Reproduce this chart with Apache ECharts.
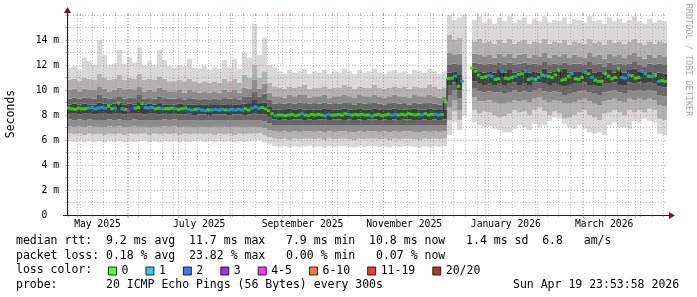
<!DOCTYPE html>
<html><head><meta charset="utf-8">
<script src="https://cdn.jsdelivr.net/npm/echarts@6/dist/echarts.min.js"></script>
<style>html,body{margin:0;padding:0;background:#fff}#c{width:697px;height:297px}</style>
</head><body><div id="c"></div>
<script>
// ===== DATA (x in days since 2025-04-25 00:00, 360 days shown; y in ms) =====
const spanDays = 360;
const columnDays = 3;            // smoke column width (days)
const monthStartDays = [6,37,67,98,129,159,190,220,251,282,310,341];
const xLabelTexts = ['May 2025','July 2025','September 2025','November 2025','January 2026','March 2026'];
const xLabelDays = [18.3,79.3,141.3,202.3,263.3,322.3];
const firstWeekDay = 1;

// smoke envelope edges per 3-day column (120 columns), outer -> inner
const smokeHi0 = [
 11.8,11.9,11.6,12.6,12.3,12.0,14.0,12.8,12.0,12.1, 13.2,12.1,12.6,12.2,13.4,12.0,12.3,12.0,13.2,12.4,
 11.9,11.8,12.0,11.9,12.5,11.8,11.7,11.9,11.6,11.8, 11.7,12.4,11.8,12.5,11.7,13.0,12.6,15.3,12.8,14.2,
 12.0,
 11.8,11.5,11.3,11.6,11.4,11.5,11.7,11.3,11.5,11.4, 11.6,11.3,11.5,11.4,11.7,11.5,11.3,11.6,11.4,11.5,
 11.7,11.4,11.3,11.5,11.6,11.4,11.5,11.3,11.6,11.5, 11.4,11.7,11.5,11.3,11.5,
 16.0,15.6,15.8,16.0,null,
 15.6,15.9,15.4,15.7,15.3,15.8,15.5,15.9,15.4,15.6, 15.8,15.3,15.7,15.5,15.9,15.4,15.6,15.5,15.8,15.3,
 15.7,15.6,15.4,15.9,15.5,15.6,15.3,15.8,15.5,15.7, 15.4,15.6,15.9,15.5,15.3,15.7,15.4,15.6,15.5];
const smokeHi1 = [
 10.8,10.9,10.7,11.0,10.9,10.8,11.3,11.0,10.8,10.9, 11.2,10.8,11.0,10.9,11.3,10.8,10.9,10.8,11.1,10.9,
 10.7,10.7,10.8,10.7,10.9,10.7,10.6,10.7,10.6,10.7, 10.6,10.9,10.7,10.9,10.6,11.2,11.0,12.0,11.0,11.5,
 10.6,
 10.3,10.2,10.1,10.3,10.2,10.3,10.4,10.1,10.2,10.2, 10.3,10.1,10.2,10.2,10.4,10.3,10.1,10.3,10.2,10.2,
 10.4,10.2,10.1,10.2,10.3,10.2,10.3,10.1,10.3,10.2, 10.2,10.4,10.3,10.1,10.2,
 14.4,14.0,14.2,12.0,null,
 13.9,14.1,13.8,13.9,13.7,14.0,13.8,14.1,13.7,13.9, 14.0,13.7,13.9,13.8,14.1,13.7,13.9,13.8,14.0,13.6,
 13.9,13.8,13.7,14.1,13.8,13.9,13.6,14.0,13.8,13.9, 13.7,13.9,14.1,13.8,13.6,13.9,13.7,13.9,13.8];
const smokeHi2 = [
 10.0,10.1,9.9,10.1,10.0,10.0,10.3,10.1,9.9,10.0, 10.2,10.0,10.1,10.0,10.3,9.9,10.0,9.9,10.2,10.0,
 9.9,9.9,10.0,9.8,10.0,9.9,9.8,9.9,9.8,9.9, 9.8,10.0,9.9,10.0,9.8,10.2,10.1,10.8,10.1,10.5,
 9.8,
 9.5,9.5,9.4,9.6,9.5,9.6,9.6,9.4,9.5,9.5, 9.6,9.4,9.5,9.5,9.6,9.5,9.4,9.6,9.5,9.5,
 9.6,9.5,9.4,9.5,9.6,9.5,9.5,9.4,9.6,9.5, 9.5,9.6,9.5,9.4,9.5,
 13.0,12.8,12.9,12.0,null,
 12.9,12.8,12.7,12.8,12.6,12.9,12.7,12.9,12.6,12.8, 12.9,12.6,12.8,12.7,13.0,12.6,12.8,12.7,12.9,12.6,
 12.8,12.7,12.6,13.0,12.7,12.8,12.5,12.9,12.7,12.8, 12.6,12.8,13.0,12.7,12.5,12.8,12.6,12.8,12.7];
const smokeHi3 = [
 9.3,9.4,9.3,9.4,9.35,9.3,9.6,9.4,9.3,9.35, 9.5,9.3,9.4,9.35,9.6,9.3,9.35,9.3,9.5,9.35,
 9.3,9.3,9.35,9.25,9.35,9.3,9.2,9.3,9.2,9.3, 9.2,9.35,9.3,9.35,9.25,9.5,9.45,9.9,9.45,9.7,
 9.2,
 8.9,8.95,8.9,9.0,8.9,9.0,8.95,8.9,8.95,8.9, 9.0,8.9,8.95,8.9,9.0,8.95,8.85,9.0,8.9,8.95,
 9.0,8.9,8.85,8.95,9.0,8.9,8.95,8.85,9.0,8.9, 8.95,9.0,8.9,8.85,8.95,
 12.0,12.1,12.0,12.0,null,
 12.2,12.1,12.0,12.1,12.0,12.2,12.0,12.2,12.0,12.1, 12.2,12.0,12.1,12.0,12.3,12.0,12.1,12.0,12.2,12.0,
 12.1,12.1,12.0,12.3,12.0,12.1,11.9,12.2,12.0,12.1, 12.0,12.1,12.3,12.0,11.9,12.1,12.0,12.1,12.0];
const smokeHi4 = [
 8.85,8.9,8.85,8.9,8.85,8.85,9.0,8.9,8.85,8.9, 9.0,8.85,8.9,8.85,9.1,8.85,8.9,8.85,8.95,8.85,
 8.85,8.85,8.9,8.8,8.85,8.85,8.8,8.85,8.8,8.8, 8.8,8.85,8.8,8.85,8.8,8.9,8.95,9.2,8.95,9.0,
 8.7,
 8.45,8.45,8.4,8.5,8.45,8.5,8.45,8.4,8.45,8.45, 8.5,8.4,8.45,8.45,8.5,8.45,8.4,8.5,8.45,8.45,
 8.5,8.45,8.4,8.45,8.5,8.4,8.45,8.4,8.5,8.45, 8.45,8.5,8.45,8.4,8.45,
 11.4,11.5,11.2,12.0,null,
 11.7,11.5,11.4,11.5,11.4,11.6,11.4,11.6,11.4,11.5, 11.6,11.4,11.5,11.4,11.7,11.4,11.5,11.5,11.7,11.4,
 11.5,11.5,11.4,11.7,11.4,11.5,11.3,11.6,11.4,11.5, 11.4,11.6,11.7,11.5,11.4,11.5,11.3,11.4,11.3];
const smokeLo4 = [
 8.1,8.1,8.05,8.1,8.1,8.05,8.1,8.1,8.05,8.1, 8.1,8.05,8.1,8.1,8.1,8.05,8.1,8.1,8.05,8.1,
 8.05,8.1,8.05,8.05,8.1,8.0,8.05,8.05,8.0,8.05, 8.05,8.05,8.0,8.05,8.05,8.0,8.05,8.1,8.05,8.05,
 7.85,
 7.65,7.6,7.65,7.6,7.65,7.65,7.6,7.65,7.6,7.65, 7.65,7.6,7.65,7.65,7.6,7.65,7.6,7.65,7.6,7.65,
 7.65,7.6,7.65,7.6,7.65,7.6,7.65,7.65,7.6,7.6, 7.65,7.6,7.65,7.6,7.65,
 10.4,10.6,10.0,12.0,null,
 10.7,10.5,10.4,10.5,10.4,10.5,10.4,10.5,10.6,10.4, 10.5,10.4,10.6,10.6,10.5,10.4,10.5,10.4,10.3,10.4,
 10.5,10.5,10.6,10.4,10.4,10.3,10.5,10.5,10.6,10.4, 10.4,10.6,10.5,10.6,10.5,10.6,10.5,10.3,10.2];
const smokeLo3 = [
 7.65,7.6,7.65,7.6,7.65,7.6,7.6,7.6,7.65,7.6, 7.65,7.6,7.6,7.65,7.6,7.6,7.55,7.6,7.6,7.65,
 7.6,7.65,7.6,7.6,7.6,7.55,7.6,7.6,7.55,7.6, 7.6,7.6,7.55,7.6,7.6,7.55,7.6,7.6,7.55,7.5,
 7.35,
 7.2,7.15,7.2,7.15,7.2,7.2,7.15,7.2,7.15,7.2, 7.15,7.2,7.2,7.15,7.2,7.2,7.15,7.2,7.15,7.2,
 7.2,7.15,7.2,7.15,7.2,7.15,7.2,7.2,7.15,7.15, 7.2,7.15,7.2,7.15,7.2,
 9.6,10.0,9.3,12.0,null,
 10.1,9.9,9.8,9.9,9.8,9.8,9.7,9.8,10.0,9.8, 9.9,9.8,10.0,10.1,9.9,9.8,9.9,9.8,9.6,9.7,
 9.8,9.9,10.0,9.8,9.7,9.6,9.8,9.9,10.0,9.8, 9.7,10.0,9.9,10.0,9.9,10.0,9.9,9.6,9.5];
const smokeLo2 = [
 7.1,7.05,7.1,7.0,7.1,7.05,7.05,7.0,7.1,7.05, 7.1,7.0,7.05,7.1,7.05,7.05,7.0,7.05,7.05,7.1,
 7.05,7.1,7.0,7.05,7.05,7.0,7.05,7.05,7.0,7.05, 7.05,7.05,7.0,7.05,7.05,7.0,7.05,7.05,7.0,6.95,
 6.8,
 6.7,6.65,6.7,6.6,6.7,6.65,6.7,6.7,6.65,6.7, 6.6,6.7,6.65,6.7,6.7,6.65,6.6,6.7,6.65,6.7,
 6.7,6.65,6.7,6.6,6.7,6.65,6.7,6.7,6.65,6.6, 6.7,6.65,6.7,6.65,6.7,
 8.6,9.2,8.4,12.0,null,
 9.4,9.1,9.1,9.2,9.0,8.9,8.9,9.0,9.2,9.1, 9.2,9.0,9.3,9.4,9.2,9.0,9.2,9.1,8.9,8.9,
 9.0,9.2,9.3,9.1,8.9,8.8,9.1,9.2,9.3,9.1, 9.0,9.3,9.2,9.3,9.2,9.3,9.2,8.8,8.7];
const smokeLo1 = [
 6.5,6.45,6.5,6.4,6.5,6.45,6.5,6.4,6.5,6.45, 6.5,6.4,6.5,6.45,6.5,6.5,6.4,6.5,6.45,6.5,
 6.45,6.5,6.4,6.5,6.45,6.5,6.5,6.45,6.5,6.4, 6.5,6.45,6.5,6.4,6.5,6.45,6.5,6.5,6.55,6.35,
 6.2,
 6.1,6.05,6.1,6.0,6.1,6.05,6.1,6.1,6.05,6.1, 6.0,6.1,6.05,6.1,6.1,6.05,6.0,6.1,6.05,6.1,
 6.1,6.05,6.1,6.0,6.1,6.05,6.1,6.1,6.05,6.0, 6.1,6.05,6.1,6.05,6.1,
 7.6,8.3,7.6,12.0,null,
 8.4,8.1,8.3,8.2,8.0,7.8,7.9,8.1,8.4,8.2, 8.3,8.0,8.4,8.6,8.3,8.0,8.3,8.1,7.7,7.8,
 8.0,8.2,8.4,8.0,7.8,7.6,8.1,8.2,8.4,8.2, 8.0,8.4,8.2,8.4,8.2,8.5,8.4,7.7,7.6];
const smokeLo0 = [
 5.9,5.85,5.95,5.8,5.9,5.85,5.9,5.8,5.95,5.85, 5.9,5.8,5.9,5.85,5.9,5.95,5.8,5.9,5.85,5.9,
 5.85,5.9,5.8,5.9,5.85,5.9,5.95,5.85,5.9,5.8, 5.9,5.85,5.9,5.8,5.9,5.85,5.9,5.95,6.0,5.8,
 5.7,
 5.5,5.45,5.5,5.4,5.5,5.45,5.5,5.55,5.45,5.5, 5.4,5.5,5.45,5.5,5.5,5.45,5.4,5.5,5.45,5.5,
 5.5,5.45,5.5,5.4,5.5,5.45,5.5,5.5,5.45,5.4, 5.5,5.45,5.5,5.45,5.5,
 6.4,7.4,6.8,8.0,null,
 7.4,7.2,7.0,7.1,6.9,6.8,6.6,6.6,6.9,7.2, 7.0,6.8,7.3,7.0,7.2,7.5,7.8,7.7,7.3,7.0,
 6.9,7.2,6.9,6.6,6.5,6.6,6.4,7.2,7.4,7.0, 7.0,6.9,7.5,7.4,7.7,7.5,7.4,6.5,6.4];

// median rtt per 2-day step (180 values) and lost pings (of 20)
const medianStepDays = 2;
const medianRtt = [
 8.55,8.5,8.45,8.55,8.5,8.5,8.55,8.6,8.5,8.55,
 8.6,8.55,8.7,8.5,8.55,8.95,8.5,8.45,8.4,8.5,
 8.55,8.6,8.9,8.6,8.55,8.6,8.5,8.55,8.5,8.5,
 8.5,8.55,8.5,8.45,8.5,8.55,8.45,8.4,8.45,8.5,
 8.4,8.35,8.4,8.4,8.45,8.4,8.45,8.4,8.4,8.45,
 8.4,8.45,8.4,8.5,8.4,8.55,8.65,8.55,8.6,8.5,
 8.35,8.1,7.95,8.0,8.0,7.95,8.0,8.05,7.95,8.0,
 8.1,8.0,7.95,8.05,8.0,8.05,8.0,7.95,8.05,8.0,
 8.0,8.05,8.0,8.1,8.05,8.0,8.05,8.0,8.05,8.0,
 8.0,7.9,8.0,8.05,7.95,8.0,8.05,8.0,8.05,8.0,
 8.05,8.0,8.1,8.05,8.0,8.05,8.0,8.1,8.0,8.05,
 8.05,8.0,8.05,9.1,10.9,10.95,11.1,10.3,10.7,null,
 null,11.75,11.5,11.2,11.0,11.05,11.15,11.1,10.85,10.9,
 11.5,10.95,10.9,11.0,11.1,11.25,11.3,11.5,10.85,10.9,
 10.85,11.0,11.2,11.15,11.1,11.0,11.2,11.6,10.8,10.85,
 11.1,11.3,10.9,10.85,11.0,11.4,11.3,11.0,10.8,10.7,
 10.7,11.3,11.1,10.9,11.0,11.7,11.0,10.95,11.2,11.15,
 10.95,11.0,11.5,11.3,11.1,11.1,11.15,10.7,10.75,10.7];
const lostPings = [
 0,0,0,0,0,0,1,1,1,1, 1,1,0,0,1,0,1,0,4,2, 0,0,0,1,1,1,0,0,1,0, 0,0,1,0,0,0,1,1,0,1,
 1,1,0,1,1,1,1,0,1,1, 1,1,1,0,0,1,1,1,0,0, 0,0,1,0,0,0,0,0,0,0, 1,0,0,0,0,0,0,1,1,0,
 0,0,0,0,1,0,0,0,0,0, 0,1,0,0,0,0,0,1,1,0, 0,0,0,0,0,0,1,0,0,0, 1,1,0,0,0,0,1,0,1,0,
 0,0,0,0,0,0,1,1,0,0, 1,0,0,0,1,0,0,1,0,1, 0,1,0,1,0,0,0,0,0,0, 0,1,0,0,0,1,0,1,0,0,
 0,0,0,0,0,0,1,1,1,0, 0,0,1,1,0,1,0,1,0,0];

const lossLabels = ['0','1','2','3','4-5','6-10','11-19','20/20'];
const lossColors = ['#26ff00','#00b8ff','#0059ff','#7e00ff','#ff00ff','#ff5500','#ff0000','#a10000'];
const yTickStep = 2;

const statsLine1 = 'median rtt:  9.2 ms avg  11.7 ms max   7.9 ms min  10.8 ms now   1.4 ms sd  6.8   am/s';
const statsLine2 = 'packet loss: 0.18 % avg  23.82 % max   0.00 % min   0.07 % now';
const lossTitle  = 'loss color:';
const probeLine  = 'probe:       20 ICMP Echo Pings (56 Bytes) every 300s';
const dateLine   = 'Sun Apr 19 23:53:58 2026';

// ===== CHART =====
const MONO = '"DejaVu Sans Mono", monospace';
const GRID = 'rgba(140,140,140,0.55)';
const MGRID = 'rgba(224,80,80,0.5)';
const AXIS = '#202020';
const weekDays = [];
for (let d = firstWeekDay; d < spanDays; d += 7) weekDays.push(d);
const colCats = smokeLo0.map((_, i) => String(i * columnDays));

function lossClass(n) {
  if (n <= 3) return n;
  if (n <= 5) return 4;
  if (n <= 10) return 5;
  if (n <= 19) return 6;
  return 7;
}

const levels = [smokeLo0, smokeLo1, smokeLo2, smokeLo3, smokeLo4, smokeHi4, smokeHi3, smokeHi2, smokeHi1, smokeHi0];
const shades = ['#d8d8d8','#b2b2b2','#8c8c8c','#666666','#404040','#666666','#8c8c8c','#b2b2b2','#d8d8d8'];

const series = [];
series.push({type:'bar', xAxisIndex:2, yAxisIndex:0, stack:'smoke', barCategoryGap:'0%', silent:true,
  data: smokeLo0, itemStyle:{color:'rgba(0,0,0,0)'}, z:1});
for (let k = 0; k < 9; k++) {
  const lo = levels[k], hi = levels[k+1];
  series.push({type:'bar', xAxisIndex:2, yAxisIndex:0, stack:'smoke', barCategoryGap:'0%', silent:true,
    data: lo.map((v, i) => (v == null || hi[i] == null) ? null : +(hi[i] - v).toFixed(3)),
    itemStyle:{color: shades[k]}, z:1});
}
const medDays = medianRtt.map((_, j) => j * medianStepDays + medianStepDays / 2);
series.push({type:'line', xAxisIndex:1, yAxisIndex:0, step:'middle', symbol:'none', silent:true,
  data: medianRtt.map((v, j) => [medDays[j], v]), lineStyle:{color:'#202020', width:1}, z:5});
for (let c = 0; c < lossLabels.length; c++) {
  const pts = [];
  medianRtt.forEach((v, j) => { if (v != null && lossClass(lostPings[j]) === c) pts.push([medDays[j], v]); });
  series.push({type:'scatter', name: lossLabels[c], xAxisIndex:1, yAxisIndex:0, symbol:'rect',
    symbolSize:[3.6, 3], data: pts, itemStyle:{color: lossColors[c]}, silent:true, z:6});
}

const tickOnly = (pos, values, len, color) => ({type:'value', min:0, max:spanDays, position:pos, z:3,
  axisLine:{show:false}, axisLabel:{show:false}, splitLine:{show:false},
  axisTick:{show:true, customValues: values, length:len, lineStyle:{color:color}}});

const option = {
  animation: false,
  backgroundColor: '#ffffff',
  grid: {left:67, top:15, width:600, height:200, containLabel:false},
  xAxis: [
    {type:'value', min:0, max:spanDays, position:'bottom', z:3,
     axisLine:{show:false}, axisLabel:{show:false},
     axisTick:{show:true, customValues: weekDays, length:2, lineStyle:{color:GRID}},
     splitLine:{show:true, lineStyle:{color:GRID, width:1, type:[1,2]}}},
    {type:'value', min:0, max:spanDays, position:'bottom', z:4,
     axisLine:{show:true, onZero:false, lineStyle:{color:AXIS, width:1}},
     axisTick:{show:true, customValues: monthStartDays, length:3, lineStyle:{color:MGRID}},
     axisLabel:{show:true, customValues: xLabelDays, margin:4, color:'#000', fontFamily:MONO, fontSize:9.7,
       formatter: v => { const i = xLabelDays.indexOf(v); return i >= 0 ? xLabelTexts[i] : ''; }},
     splitLine:{show:true, lineStyle:{color:MGRID, width:1, type:[1,2]}}},
    {type:'category', data: colCats, show:false, boundaryGap:true},
    tickOnly('top', weekDays, 2, GRID),
    tickOnly('top', monthStartDays, 2, MGRID)
  ],
  yAxis: [
    {type:'value', min:0, max:16, interval:yTickStep, z:4,
     axisLine:{show:true, onZero:false, lineStyle:{color:AXIS, width:1}},
     axisTick:{show:true, length:2, lineStyle:{color:MGRID}},
     minorTick:{show:true, splitNumber:2, length:2, lineStyle:{color:GRID}},
     axisLabel:{margin:8, color:'#000', fontFamily:MONO, fontSize:9.7,
       formatter: v => v === 0 ? '0  ' : (v >= 16 ? '' : v + ' m')},
     splitLine:{show:true, lineStyle:{color:MGRID, width:1, type:[1,2]}},
     minorSplitLine:{show:true, lineStyle:{color:GRID, width:1, type:[1,2]}}},
    {type:'value', min:0, max:16, interval:yTickStep, position:'right', z:3,
     axisLine:{show:false}, axisLabel:{show:false}, splitLine:{show:false},
     axisTick:{show:true, length:2, lineStyle:{color:MGRID}},
     minorTick:{show:true, splitNumber:2, length:2, lineStyle:{color:GRID}}}
  ],
  legend: {show:true, data: lossLabels, left:108, top:265, padding:0, itemWidth:8, itemHeight:8, itemGap:17,
    icon:'rect', selectedMode:false, itemStyle:{borderColor:'#000', borderWidth:1},
    textStyle:{fontFamily:MONO, fontSize:11.5, color:'#000'}},
  graphic: [
    {type:'line', z:20, shape:{x1:63, y1:215.5, x2:67, y2:215.5}, style:{stroke:AXIS, lineWidth:1}},
    {type:'line', z:20, shape:{x1:667, y1:215.5, x2:671, y2:215.5}, style:{stroke:AXIS, lineWidth:1}},
    {type:'line', z:20, shape:{x1:67.5, y1:11, x2:67.5, y2:15}, style:{stroke:AXIS, lineWidth:1}},
    {type:'polygon', z:20, shape:{points:[[669,212],[669,219],[675,215.5]]}, style:{fill:'#801010'}},
    {type:'polygon', z:20, shape:{points:[[64,13],[71,13],[67.5,7]]}, style:{fill:'#801010'}},
    {type:'text', z:20, x:11, y:114, rotation:Math.PI/2,
     style:{text:'Seconds', font:'11.5px ' + MONO, fill:'#000', align:'center', verticalAlign:'middle'}},
    {type:'text', z:20, x:688, y:60, rotation:-Math.PI/2,
     style:{text:'RRDTOOL / TOBI OETIKER', font:'8.5px ' + MONO, fill:'#aaaaaa', align:'center', verticalAlign:'middle'}},
    {type:'text', z:20, x:16, y:241, style:{text:statsLine1, font:'11.5px ' + MONO, fill:'#000', verticalAlign:'middle'}},
    {type:'text', z:20, x:16, y:256, style:{text:statsLine2, font:'11.5px ' + MONO, fill:'#000', verticalAlign:'middle'}},
    {type:'text', z:20, x:16, y:270.5, style:{text:lossTitle, font:'11.5px ' + MONO, fill:'#000', verticalAlign:'middle'}},
    {type:'text', z:20, x:16, y:285, style:{text:probeLine, font:'11.5px ' + MONO, fill:'#000', verticalAlign:'middle'}},
    {type:'text', z:20, x:513, y:285, style:{text:dateLine, font:'11.5px ' + MONO, fill:'#000', verticalAlign:'middle'}}
  ],
  series: series
};
const chart = echarts.init(document.getElementById('c'), null, {renderer:'canvas', width:697, height:297});
chart.setOption(option);
</script>
</body></html>
